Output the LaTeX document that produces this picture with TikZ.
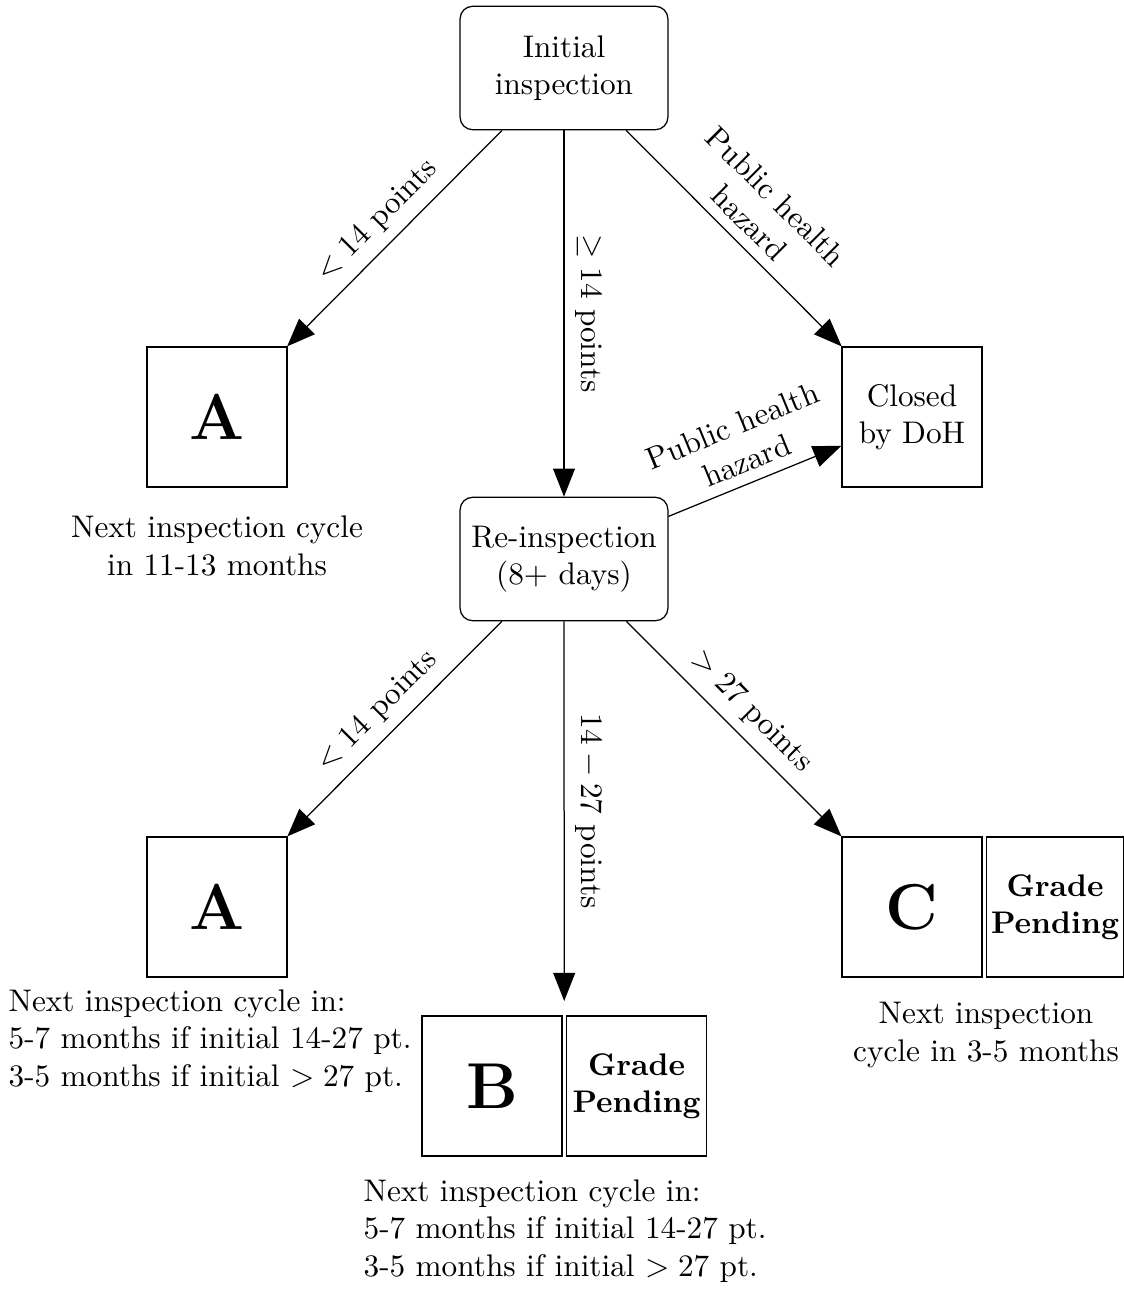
\documentclass[tikz,border=0pt]{standalone}
\usetikzlibrary{arrows.meta,fit}
\begin{document}
\begin{tikzpicture}[x=0.32pt,y=-0.32pt,
  box/.style={draw, minimum size=44.8pt, inner sep=0pt},
  rbox/.style={draw, rounded corners=4pt, minimum width=66.5pt, minimum height=39.5pt, align=center},
  big/.style={box, font=\huge\bfseries},
  gp/.style={box, font=\bfseries, align=center},
  arr/.style={-{Triangle[length=9pt,width=7pt]}},
  lbl/.style={sloped, above, align=center},
  note/.style={align=center, inner sep=0pt}
]
\useasboundingbox (0,0) rectangle (1124,1289);

\node[rbox] (init) at (564,68) {Initial\\inspection};
\node[big] (a1) at (217,417) {A};
\node[box, align=center] (closed) at (912,417) {Closed\\by DoH};
\node[rbox] (re) at (564,559) {Re-inspection\\(8+ days)};
\node[big] (a2) at (217,907) {A};
\node[big] (b) at (492,1086) {B};
\node[gp] (gpb) at (636.5,1086) {Grade\\Pending};
\node[fit=(b)(gpb), inner sep=4.4pt] (bgrp) {};
\node[big] (c) at (912,907) {C};
\node[gp, minimum width=43.8pt] (gpc) at (1055,907) {Grade\\Pending};

\node[note] (n1) at (217,546) {Next inspection cycle\\in 11-13 months};
\node[note, align=left, anchor=west] (n2) at (8,1041) {Next inspection cycle in:\\5-7 months if initial 14-27 pt.\\3-5 months if initial $>27$ pt.};
\node[note, align=left, anchor=west] (n3) at (363,1231) {Next inspection cycle in:\\5-7 months if initial 14-27 pt.\\3-5 months if initial $>27$ pt.};
\node[note] (n4) at (986,1035) {Next inspection\\cycle in 3-5 months};

\draw[arr] (init) -- node[lbl] {$<14$ points} (a1);
\draw[arr] (init) -- node[lbl] {$\geq 14$ points} (re);
\draw[arr] (init) -- node[lbl] {Public health\\hazard} (closed);
\draw[arr] (re) -- node[lbl] {Public health\\hazard} (closed);
\draw[arr] (re) -- node[lbl] {$<14$ points} (a2);
\draw[arr] (re) -- node[lbl] {$14-27$ points} (bgrp);
\draw[arr] (re) -- node[lbl] {$>27$ points} (c);
\end{tikzpicture}
\end{document}
